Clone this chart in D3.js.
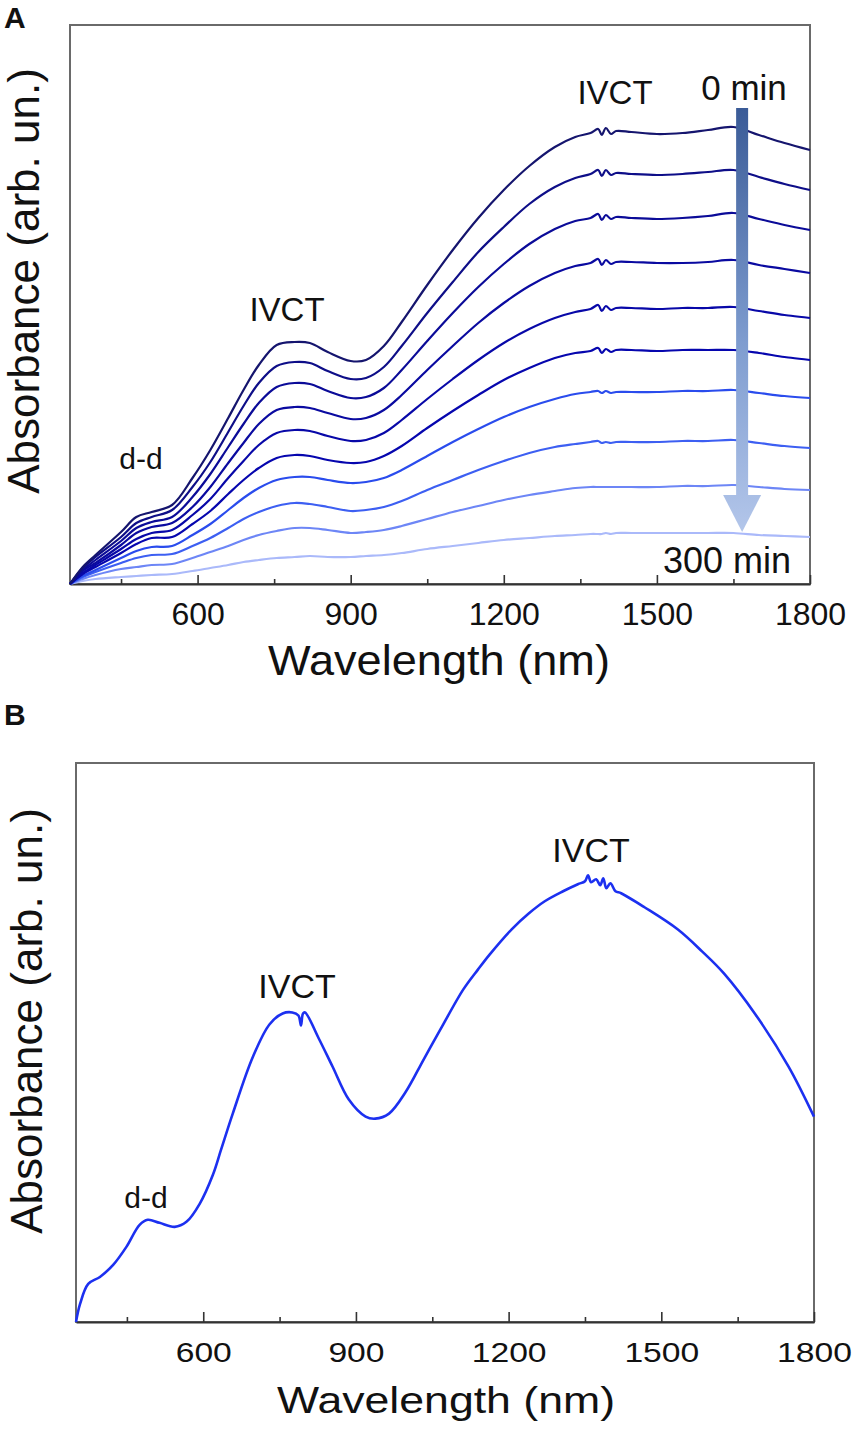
<!DOCTYPE html>
<html>
<head>
<meta charset="utf-8">
<script src="https://cdn.jsdelivr.net/npm/d3@7"></script>
<style>
  body { margin: 0; background: #fff; }
  svg { display: block; }
  text { font-family: "Liberation Sans", Arial, sans-serif; fill: #111; }
</style>
</head>
<body>
<svg id="fig" width="855" height="1430"></svg>
<script>
// wavelength grid (nm) shared by the time series of panel A
var wavelengths = [350,375,400,450,480,510,550,590,625,660,690,720,755,790,820,855,900,930,965,1000,1050,1100,1150,1200,1250,1300,1340,1370,1385,1392,1400,1410,1420,1450,1500,1550,1600,1650,1700,1750,1800];

// absorbance (arb. un.) for each spectrum, 0 min first, 300 min last
var spec0 = [0,17,29,52,67,72,79,106,134,166,194,219,239,242,241,232,223,224,238,262,299,334,366,394,418,437,447,451,455,449,456,450,453,452,450,451,454,457,449,441,434];
var spec1 = [0,16,27,47,61,67,74,97,122,152,178,201,218,222,221,213,205,206,217,238,271,302,332,357,380,397,406,410,414,408,414,409,411,410,409,410,412,414,407,400,394];
var spec2 = [0,14,24,43,56,62,67,87,110,137,160,181,197,201,200,193,186,187,196,214,243,271,297,320,340,355,363,366,370,364,369,365,367,366,365,366,368,371,365,359,354];
var spec3 = [0,13,21,39,51,57,61,77,97,121,141,160,174,177,176,171,165,166,174,189,214,238,261,281,298,311,318,321,325,319,324,320,322,322,321,321,322,324,319,315,311];
var spec4 = [0,11,19,35,45,51,54,69,85,106,123,139,151,154,153,148,143,144,151,164,185,205,224,241,255,266,272,275,279,273,278,274,276,276,275,276,276,277,273,269,266];
var spec5 = [0,10,17,31,40,46,47,60,73,90,104,116,126,129,128,124,121,122,128,138,156,173,189,204,216,226,231,233,236,231,235,232,234,234,233,234,234,234,231,227,224];
var spec6 = [0,8,14,26,33,37,38,49,60,74,86,96,104,107,107,104,101,102,106,114,128,142,155,167,177,185,190,192,193,191,193,191,192,192,192,193,193,194,191,188,186];
var spec7 = [0,7,12,21,26,29,30,38,46,56,65,72,78,81,80,77,73,74,77,83,94,104,114,123,131,137,140,142,143,141,142,141,142,142,142,143,143,144,141,138,136];
var spec8 = [0,5,9,15,17,19,20,26,32,38,44,49,53,56,56,54,51,52,54,58,65,72,78,84,89,93,96,97,97,97,97,97,97,97,97,98,98,99,97,95,94];
var spec9 = [0,3,5,7,8,9,10,13,16,19,22,24,26,27,28,27,27,28,29,31,35,38,41,44,46,48,49,50,50,50,51,50,51,51,51,51,51,51,49,48,47];
var spectraA = [spec0, spec1, spec2, spec3, spec4, spec5, spec6, spec7, spec8, spec9];
var colorsA = ["#15156e","#0e0e88","#0b0b98","#0a0aa0","#0808a8","#0606ae","#2a4ced","#3d5ff2","#6d86f6","#aab9fa"];

// panel B: single spectrum
var wavelengthsB = [350,358,374,397,423,449,475,491,514,544,567,593,619,635,658,697,730,756,775,787,792,796,800,827,854,886,919,938,965,997,1033,1066,1111,1140,1163,1206,1240,1271,1307,1336,1350,1356,1362,1372,1380,1386,1392,1400,1410,1421,1467,1532,1580,1623,1685,1750,1800];
var absorbB = [0,18,38,45,57,75,97,102,99,95,100,118,147,172,208,264,297,308,309,306,296,308,309,283,255,222,205,203,208,229,262,292,332,352,367,392,408,420,430,437,440,446,439,442,436,443,433,438,430,428,414,392,370,348,307,255,205];

var xTicks = [600, 900, 1200, 1500, 1800];
var xMinor = [450, 750, 1050, 1350, 1650];

var svg = d3.select("#fig");

function drawPanel(box, yMax, tickFont, tickY, tickLen)
{
  var x = d3.scaleLinear().domain([350, 1800]).range([box.left, box.right]);
  var y = d3.scaleLinear().domain([0, yMax]).range([box.bottom, box.top]);

  var g = svg.append("g");
  // frame
  g.append("rect")
   .attr("x", box.left).attr("y", box.top)
   .attr("width", box.right - box.left).attr("height", box.bottom - box.top)
   .attr("fill", "none").attr("stroke", "#6a6a6a").attr("stroke-width", 2);

  // minor ticks
  g.append("g")
   .attr("transform", "translate(0," + box.bottom + ")")
   .call(d3.axisBottom(x).tickValues(xMinor).tickSize(-tickLen[1]).tickSizeOuter(0).tickFormat(""))
   .call(function(a){ a.select(".domain").remove(); a.selectAll("line").attr("stroke", "#333").attr("stroke-width", 1.6); });

  // major ticks + labels
  var ax = g.append("g")
   .attr("transform", "translate(0," + box.bottom + ")")
   .call(d3.axisBottom(x).tickValues(xTicks).tickSize(-tickLen[0]).tickSizeOuter(0).tickFormat(d3.format("d")));
  ax.select(".domain").attr("stroke", "#333").attr("stroke-width", 2);
  ax.selectAll("line").attr("stroke", "#333").attr("stroke-width", 1.6);
  ax.selectAll("text")
    .attr("y", tickY).attr("dy", null)
    .attr("font-size", tickFont.size)
    .attr("font-family", "Liberation Sans, Arial, sans-serif")
    .attr("fill", "#111")
    .each(function(d){
      if (tickFont.perChar) {
        d3.select(this).attr("textLength", String(d).length * tickFont.perChar)
          .attr("lengthAdjust", "spacingAndGlyphs");
      }
    });
  return {x: x, y: y, g: g};
}

// ---------- panel A ----------
var A = drawPanel({left: 70, right: 810, top: 25, bottom: 584}, 559, {size: 32}, 41, [9, 5]);

var lineA = d3.line()
  .x(function(d){ return A.x(d[0]); })
  .y(function(d){ return A.y(d[1]); })
  .curve(d3.curveCatmullRom.alpha(0.5));

var order = d3.range(spectraA.length).reverse();
A.g.append("g").selectAll("path")
  .data(order)
  .enter()
  .append("path")
  .attr("d", function(i){ return lineA(wavelengths.map(function(w, k){ return [w, spectraA[i][k]]; })); })
  .attr("fill", "none")
  .attr("stroke", function(i){ return colorsA[i]; })
  .attr("stroke-width", 2.2)
  .attr("stroke-linejoin", "round");

// time arrow
var defs = svg.append("defs");
var grad = defs.append("linearGradient")
  .attr("id", "arrowGrad")
  .attr("gradientUnits", "userSpaceOnUse")
  .attr("x1", 0).attr("x2", 0)
  .attr("y1", A.y(476)).attr("y2", A.y(52));
grad.append("stop").attr("offset", "0%").attr("stop-color", "#3a5b97");
grad.append("stop").attr("offset", "55%").attr("stop-color", "#7e9ccf");
grad.append("stop").attr("offset", "100%").attr("stop-color", "#b3c6ea");

var ax0 = A.x(1667);
A.g.append("rect")
  .attr("x", ax0 - 6).attr("y", A.y(476))
  .attr("width", 12).attr("height", A.y(89) - A.y(476))
  .attr("fill", "url(#arrowGrad)");
A.g.append("path")
  .attr("d", "M" + (ax0 - 19) + "," + A.y(89) + "L" + (ax0 + 19) + "," + A.y(89) + "L" + ax0 + "," + A.y(52) + "Z")
  .attr("fill", "url(#arrowGrad)");

// labels A
svg.append("text").attr("x", 4).attr("y", 28).attr("font-size", 30).attr("font-weight", "bold").text("A");
svg.append("text")
  .attr("transform", "translate(39,281) rotate(-90)")
  .attr("text-anchor", "middle").attr("font-size", 44)
  .text("Absorbance (arb. un.)");
svg.append("text")
  .attr("x", 439).attr("y", 675).attr("text-anchor", "middle")
  .attr("font-size", 42).attr("textLength", 342).attr("lengthAdjust", "spacingAndGlyphs")
  .text("Wavelength (nm)");
svg.append("text").attr("x", 287).attr("y", 321).attr("text-anchor", "middle").attr("font-size", 33).text("IVCT");
svg.append("text").attr("x", 615).attr("y", 104).attr("text-anchor", "middle").attr("font-size", 33).text("IVCT");
svg.append("text").attr("x", 141).attr("y", 469).attr("text-anchor", "middle").attr("font-size", 30).text("d-d");
svg.append("text").attr("x", 744).attr("y", 100).attr("text-anchor", "middle")
  .attr("font-family", "Open Sans, sans-serif").attr("font-size", 35).text("0 min");
svg.append("text").attr("x", 727).attr("y", 573).attr("text-anchor", "middle")
  .attr("font-family", "Open Sans, sans-serif").attr("font-size", 36).text("300 min");

// ---------- panel B ----------
var B = drawPanel({left: 76, right: 814, top: 763, bottom: 1322}, 558, {size: 28, perChar: 18.7}, 40, [10, 5]);

var lineB = d3.line()
  .x(function(d){ return B.x(d[0]); })
  .y(function(d){ return B.y(d[1]); })
  .curve(d3.curveCatmullRom.alpha(0.5));

B.g.append("path")
  .datum(wavelengthsB.map(function(w, k){ return [w, absorbB[k]]; }))
  .attr("d", lineB)
  .attr("fill", "none")
  .attr("stroke", "#1c30f0")
  .attr("stroke-width", 2.6)
  .attr("stroke-linejoin", "round");

svg.append("text").attr("x", 4).attr("y", 725).attr("font-size", 30).attr("font-weight", "bold").text("B");
svg.append("text")
  .attr("transform", "translate(42,1021) rotate(-90)")
  .attr("text-anchor", "middle").attr("font-size", 44)
  .text("Absorbance (arb. un.)");
svg.append("text")
  .attr("x", 446).attr("y", 1413).attr("text-anchor", "middle")
  .attr("font-size", 37).attr("textLength", 338).attr("lengthAdjust", "spacingAndGlyphs")
  .text("Wavelength (nm)");
svg.append("text").attr("x", 297).attr("y", 998).attr("text-anchor", "middle").attr("font-size", 34).text("IVCT");
svg.append("text").attr("x", 591).attr("y", 862).attr("text-anchor", "middle").attr("font-size", 34).text("IVCT");
svg.append("text").attr("x", 146).attr("y", 1208).attr("text-anchor", "middle").attr("font-size", 30).text("d-d");
</script>
</body>
</html>
